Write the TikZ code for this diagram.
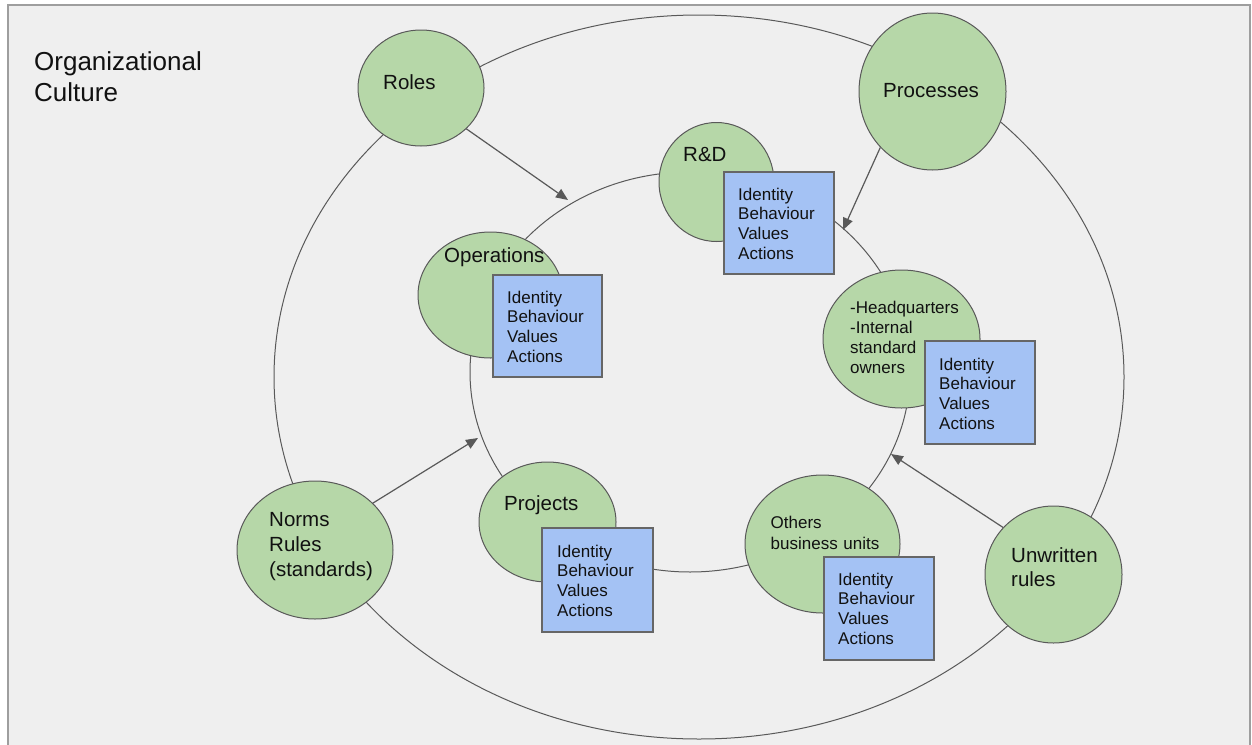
\documentclass[tikz,border=0pt]{standalone}
\usepackage{fontspec}
\setmainfont{Liberation Sans}
\usetikzlibrary{shapes.geometric,arrows.meta}

\definecolor{bgC}{HTML}{EFEFEF}
\definecolor{frameC}{HTML}{9E9E9E}
\definecolor{lineC}{HTML}{595959}
\definecolor{grnC}{HTML}{B6D7A8}
\definecolor{bluC}{HTML}{A4C2F4}
\definecolor{boxC}{HTML}{666666}
\definecolor{txtC}{HTML}{111111}

\tikzset{
  grn/.style={ellipse, draw=lineC, fill=grnC, line width=1pt, inner sep=0pt},
  bluebox/.style={rectangle, draw=boxC, fill=bluC, line width=1.3pt, inner sep=0pt},
  lbl/.style={anchor=base west, inner sep=0pt, text width=170pt, align=left,
              text=txtC, font=\fontsize{20.5}{24.5}\selectfont},
  small/.style={lbl, font=\fontsize{17}{19.7}\selectfont},
  arr/.style={draw=lineC, line width=1.2pt, -{Triangle[length=12pt,width=10pt]}},
  ring/.style={draw=lineC, line width=1pt}
}

\begin{document}
\begin{tikzpicture}[x=1pt, y=-1pt]
  \clip (0,0) rectangle (1252,744);
  \fill[white] (0,0) rectangle (1252,744);
  % canvas
  \draw[fill=bgC, draw=frameC, line width=1.5pt] (8,5) rectangle (1250,770);

  % title
  \node[lbl, font=\fontsize{26}{31}\selectfont] (title) at (34,70) {Organizational\\Culture};

  % outer and inner rings
  \draw[ring] (699,377) ellipse [x radius=425pt, y radius=362pt];
  \draw[ring] (690,372) ellipse [x radius=220pt, y radius=200pt];

  % outer ring elements
  \node[grn, minimum width=126pt, minimum height=116pt] (roles) at (421,88) {};
  \node[grn, minimum width=147pt, minimum height=157pt] (proc) at (932.5,91.5) {};
  \node[grn, minimum width=156pt, minimum height=138pt] (norms) at (315,550) {};
  \node[grn, minimum width=137pt, minimum height=137pt] (unw) at (1053.5,574.5) {};

  \node[lbl] (rolesT) at (383,89) {Roles};
  \node[lbl] (procT) at (883,97) {Processes};
  \node[lbl, font=\fontsize{20.5}{25}\selectfont] (normsT) at (269,526) {Norms\\Rules\\(standards)};
  \node[lbl, font=\fontsize{20.5}{24}\selectfont] (unwT) at (1011,562) {Unwritten\\rules};

  % inner ring units
  \node[grn, minimum width=115pt, minimum height=119pt] (rd) at (716.5,182) {};
  \node[grn, minimum width=145pt, minimum height=126pt] (ops) at (490.5,295) {};
  \node[grn, minimum width=157pt, minimum height=138pt] (hq) at (901.5,339) {};
  \node[grn, minimum width=137pt, minimum height=120pt] (proj) at (547.5,522) {};
  \node[grn, minimum width=155pt, minimum height=138pt] (oth) at (822.5,544) {};

  \node[lbl] (rdT) at (683,161) {R\&D};
  \node[lbl] (opsT) at (444,262) {Operations};
  \node[small, font=\fontsize{17}{20.3}\selectfont] (hqT) at (850,313) {-Headquarters\\-Internal\\standard\\owners};
  \node[lbl] (projT) at (504,510) {Projects};
  \node[small, font=\fontsize{17}{21}\selectfont] (othT) at (770.5,528) {Others\\business units};

  % attribute boxes
  \node[bluebox, minimum width=110pt, minimum height=102pt] (rdB) at (779,223) {};
  \node[bluebox, minimum width=109pt, minimum height=102pt] (opsB) at (547.5,326) {};
  \node[bluebox, minimum width=110pt, minimum height=103pt] (hqB) at (980,392.5) {};
  \node[bluebox, minimum width=111pt, minimum height=104pt] (projB) at (597.5,580) {};
  \node[bluebox, minimum width=110pt, minimum height=103pt] (othB) at (879,608.5) {};

  \node[small] (rdBT) at (738,200) {Identity\\Behaviour\\Values\\Actions};
  \node[small] (opsBT) at (507,303) {Identity\\Behaviour\\Values\\Actions};
  \node[small] (hqBT) at (939,370) {Identity\\Behaviour\\Values\\Actions};
  \node[small] (projBT) at (557,557) {Identity\\Behaviour\\Values\\Actions};
  \node[small] (othBT) at (838,585) {Identity\\Behaviour\\Values\\Actions};

  % influences on the inner ring
  \coordinate (rolesTip) at (568,200);
  \coordinate (procTip) at (843,230);
  \coordinate (normsTip) at (478,438);
  \coordinate (unwTip) at (891,454);
  \draw[arr] (roles.-42) -- (rolesTip);
  \draw[arr] (proc.-133) -- (procTip);
  \draw[arr] (norms.39) -- (normsTip);
  \draw[arr] (unw.137) -- (unwTip);
\end{tikzpicture}
\end{document}
